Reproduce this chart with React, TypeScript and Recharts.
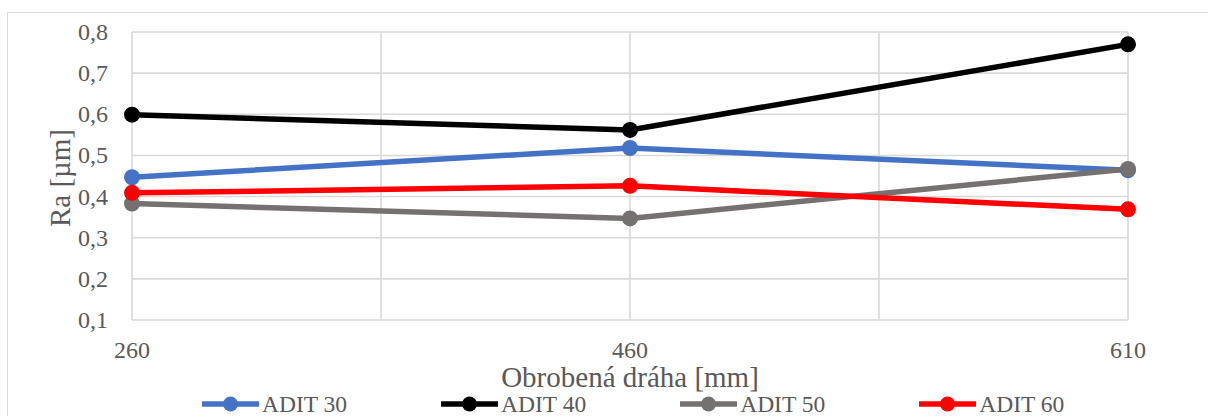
import React from 'react';
import { LineChart, Line, XAxis, YAxis, CartesianGrid, Legend, Label } from 'recharts';

// ---- data ----
const categories = ['260', '460', '610'];
const adit30 = [0.447, 0.518, 0.464];
const adit40 = [0.599, 0.562, 0.77];
const adit50 = [0.383, 0.347, 0.467];
const adit60 = [0.409, 0.426, 0.369];
const yTicks = [0.1, 0.2, 0.3, 0.4, 0.5, 0.6, 0.7, 0.8];
const xGridTicks = [0, 0.5, 1, 1.5, 2];
const seriesNames = ['ADIT 30', 'ADIT 40', 'ADIT 50', 'ADIT 60'];
const seriesValues = [adit30, adit40, adit50, adit60];
const seriesColors = ['#4472C4', '#000000', '#767171', '#FF0000'];
const xTitle = 'Obrobená dráha [mm]';
const yTitle = 'Ra [µm]';

const FONT = 'Liberation Serif';
const TEXT = '#595959';

const data = categories.map((c, i) => {
  const row: Record<string, number | string> = { idx: i, cat: c };
  seriesNames.forEach((n, s) => {
    row[n] = seriesValues[s][i];
  });
  return row;
});

const fmtY = (v: number) => v.toFixed(1).replace('.', ',');
const fmtX = (v: number) => (Number.isInteger(v) ? categories[v] : '');

const AxisTick = (props: any) => {
  const { x, y, payload, textAnchor, formatter, dyExtra } = props;
  return (
    <text
      x={x}
      y={y}
      dy={dyExtra}
      textAnchor={textAnchor}
      fontFamily={FONT}
      fontSize={24}
      fill={TEXT}
    >
      {formatter(payload.value)}
    </text>
  );
};

const LegendContent = () => (
  <div
    style={{
      height: 24,
      display: 'flex',
      alignItems: 'center',
      paddingLeft: 194,
      gap: 94,
      fontFamily: FONT,
      fontSize: 23.5,
      lineHeight: '24px',
      color: TEXT,
      whiteSpace: 'nowrap',
    }}
  >
    {seriesNames.map((n, i) => (
      <div key={n} style={{ display: 'flex', alignItems: 'center' }}>
        <svg width={57} height={18} style={{ marginRight: 3 }}>
          <line x1={1} y1={9} x2={56} y2={9} stroke={seriesColors[i]} strokeWidth={5.5} strokeLinecap="round" />
          <circle cx={28.5} cy={9} r={7.5} fill={seriesColors[i]} />
        </svg>
        <span>{n}</span>
      </div>
    ))}
  </div>
);

const YTitle = (props: any) => {
  const vb = props.viewBox || {};
  const cx = 52;
  const cy = vb.y + vb.height / 2 + 2;
  return (
    <text
      x={cx}
      y={cy}
      transform={`rotate(-90 ${cx} ${cy})`}
      textAnchor="middle"
      dominantBaseline="central"
      fontFamily={FONT}
      fontSize={29}
      fill={TEXT}
    >
      {yTitle}
    </text>
  );
};

export default function App() {
  return (
    <div
      style={{
        position: 'fixed',
        left: 0,
        top: 0,
        width: 1208,
        height: 416,
        overflow: 'hidden',
        background: '#fff',
        fontFamily: FONT,
      }}
    >
      <div
        style={{
          position: 'absolute',
          left: 7,
          top: 12,
          width: 1400,
          height: 600,
          border: '1px solid #d9d9d9',
          boxSizing: 'border-box',
        }}
      />
      <div style={{ position: 'absolute', left: 8, top: 8 }}>
        <LineChart width={1200} height={408} data={data} margin={{ top: 24, right: 80, left: 0, bottom: 0 }}>
          <CartesianGrid stroke="#d9d9d9" strokeWidth={1.6} />
          <XAxis
            type="number"
            dataKey="idx"
            domain={[0, 2]}
            ticks={xGridTicks}
            interval={0}
            axisLine={false}
            tickLine={false}
            tickMargin={15}
            height={72}
            tick={<AxisTick formatter={fmtX} dyExtra={17} />}
          >
            <Label
              value={xTitle}
              position="insideBottom"
              offset={5}
              style={{ fontFamily: FONT, fontSize: 29, fill: TEXT }}
            />
          </XAxis>
          <YAxis
            type="number"
            domain={[0.1, 0.8]}
            ticks={yTicks}
            interval={0}
            axisLine={false}
            tickLine={false}
            tickMargin={18}
            width={124}
            tick={<AxisTick formatter={fmtY} dyExtra={8} />}
          >
            <Label content={<YTitle />} />
          </YAxis>
          <Legend verticalAlign="bottom" content={<LegendContent />} />
          {seriesNames.map((n, i) => (
            <Line
              key={n}
              type="linear"
              dataKey={n}
              stroke={seriesColors[i]}
              strokeWidth={5.5}
              dot={{ r: 8, fill: seriesColors[i], stroke: 'none' }}
              activeDot={false}
              isAnimationActive={false}
            />
          ))}
        </LineChart>
      </div>
    </div>
  );
}
